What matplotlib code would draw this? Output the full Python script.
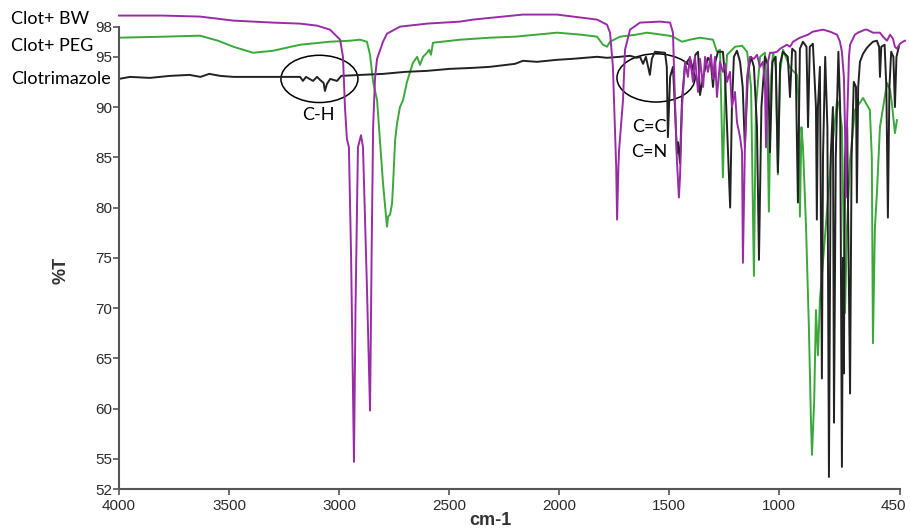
import matplotlib
matplotlib.use('Agg')
import matplotlib.pyplot as plt
from matplotlib.patches import Ellipse
from matplotlib.transforms import ScaledTranslation

plt.rcParams['font.family'] = ['Liberation Sans', 'DejaVu Sans']

# FTIR spectra, wavenumber (cm-1) vs transmittance (%T)
bw_wn = [4000, 3800, 3632, 3480, 3300, 3177, 3100, 3041, 2995, 2982, 2973, 2964, 2955, 2945,
         2932, 2925, 2914, 2900, 2891, 2873, 2859, 2852, 2845, 2836, 2827, 2800, 2782, 2723,
         2600, 2450, 2391, 2164, 2009, 1937, 1827, 1782, 1768, 1755, 1740, 1736, 1730, 1727,
         1709, 1700, 1677, 1632, 1541, 1495, 1482, 1473, 1464, 1455, 1450, 1441, 1427, 1414,
         1405, 1391, 1382, 1368, 1359, 1345, 1336, 1323, 1309, 1300, 1291, 1282, 1268, 1255,
         1245, 1236, 1223, 1214, 1200, 1191, 1177, 1168, 1164, 1155, 1145, 1132, 1114, 1100,
         1086, 1073, 1064, 1059, 1050, 1041, 1027, 1009, 995, 964, 950, 936, 905, 868, 846,
         800, 768, 736, 723, 714, 705, 700, 696, 691, 682, 677, 655, 641, 609, 600, 573, 541,
         527, 509, 495, 482, 473, 464, 450, 437, 427]
bw_t = [99.1, 99.1, 99.0, 98.6, 98.4, 98.3, 98.1, 97.7, 96.7, 95.0, 90.0, 86.8, 86.0, 75.0,
        54.7, 70.0, 86.0, 87.2, 86.0, 72.0, 59.8, 75.0, 88.0, 93.0, 94.8, 96.5, 97.3, 98.0,
        98.3, 98.5, 98.7, 99.2, 99.2, 99.0, 98.7, 98.2, 97.4, 94.0, 84.0, 78.8, 84.0, 85.7,
        90.7, 95.7, 97.7, 98.4, 98.5, 98.4, 97.4, 90.7, 84.7, 81.0, 83.0, 90.0, 94.5, 93.0,
        95.0, 92.5, 95.0, 91.5, 94.8, 92.0, 95.0, 93.5, 95.2, 92.8, 95.0, 91.0, 94.5, 93.5,
        94.3, 92.5, 93.5, 90.0, 91.5, 88.5, 87.0, 85.5, 74.5, 86.0, 93.0, 95.0, 94.8, 95.2,
        94.0, 94.5, 92.5, 86.0, 94.5, 95.4, 95.4, 95.5, 95.8, 96.2, 96.0, 96.5, 96.9, 97.2, 97.5,
        97.7, 97.5, 97.2, 96.5, 95.5, 93.0, 88.0, 81.0, 88.0, 95.0, 96.2, 97.2, 97.4, 97.7, 97.7, 97.4, 97.4,
        97.0, 96.6, 97.2, 96.8, 96.0, 95.8, 96.3, 96.5, 96.6]

peg_wn = [4000, 3800, 3632, 3550, 3480, 3391, 3300, 3177, 3041, 2950, 2905, 2873, 2859, 2845,
          2827, 2814, 2800, 2782, 2777, 2768, 2759, 2755, 2745, 2736, 2723, 2709, 2691, 2664,
          2645, 2632, 2618, 2600, 2590, 2582, 2573, 2450, 2314, 2200, 2009, 1900, 1827, 1800,
          1782, 1768, 1723, 1650, 1600, 1500, 1482, 1441, 1405, 1359, 1300, 1282, 1268, 1255,
          1245, 1236, 1200, 1168, 1145, 1127, 1114, 1105, 1086, 1064, 1055, 1046, 1036, 1027,
          1015, 1005, 995, 982, 950, 918, 910, 905, 898, 891, 877, 864, 855, 850, 840, 832,
          823, 814, 791, 764, 736, 727, 714, 700, 691, 677, 655, 618, 587, 578, 573, 564, 555,
          541, 509, 495, 487, 473, 464]
peg_t = [96.9, 97.0, 97.1, 96.6, 96.0, 95.4, 95.6, 96.2, 96.5, 96.6, 96.7, 96.5, 95.2, 92.5,
         90.7, 86.7, 82.4, 78.1, 79.1, 79.3, 80.4, 82.0, 86.7, 88.4, 90.0, 90.7, 92.5, 94.4,
         95.0, 94.2, 95.0, 95.4, 95.7, 95.2, 96.4, 96.7, 96.9, 97.0, 97.4, 97.2, 97.0, 96.2,
         96.0, 96.5, 97.0, 97.2, 97.4, 97.1, 97.0, 96.5, 96.7, 96.9, 96.7, 95.5, 95.7, 83.0,
         92.0, 95.2, 96.0, 96.1, 95.5, 92.0, 73.2, 90.0, 95.0, 95.4, 92.0, 79.6, 93.0, 95.4,
         94.0, 83.3, 93.5, 95.7, 93.9, 93.2, 90.0, 79.1, 88.0, 86.0, 78.0, 68.0, 59.0, 55.4, 60.8, 69.8,
         65.3, 70.8, 77.1, 84.7, 90.7, 90.2, 88.0, 69.5, 78.0, 84.7, 89.7, 90.9, 89.7, 85.0, 66.5, 78.0, 81.4,
         88.0, 92.4, 91.7, 90.4, 87.4, 88.7]

clot_wn = [4000, 3950, 3860, 3770, 3680, 3630, 3590, 3540, 3480, 3300, 3177, 3164, 3150, 3118,
           3100, 3086, 3070, 3064, 3055, 3040, 3009, 2990, 2900, 2800, 2700, 2600, 2496, 2390,
           2314, 2200, 2164, 2100, 2009, 1937, 1827, 1782, 1723, 1677, 1646, 1632, 1618, 1605,
           1587, 1578, 1564, 1518, 1510, 1505, 1495, 1482, 1473, 1464, 1459, 1450, 1441, 1427,
           1405, 1391, 1380, 1368, 1359, 1345, 1323, 1310, 1300, 1291, 1277, 1255, 1245, 1236,
           1222, 1214, 1205, 1191, 1177, 1165, 1155, 1141, 1127, 1114, 1100, 1091, 1080, 1064,
           1050, 1041, 1030, 1015, 1005, 995, 982, 960, 950, 940, 925, 914, 905, 891, 875, 868,
           860, 846, 832, 828, 823, 814, 805, 800, 790, 780, 773, 765, 755, 750, 742, 730, 722,
           714, 709, 705, 700, 690, 677, 670, 660, 650, 646, 640, 632, 618, 600, 587, 573, 555,
           545, 541, 535, 520, 512, 505, 498, 490, 480, 473, 466, 455, 450]
clot_t = [92.8, 93.0, 92.9, 93.1, 93.2, 93.0, 93.3, 93.1, 93.0, 93.0, 93.0, 92.6, 93.0, 92.6,
          93.0, 92.7, 92.4, 91.6, 92.3, 92.8, 92.6, 93.1, 93.2, 93.3, 93.5, 93.6, 93.8, 93.9,
          94.0, 94.3, 94.6, 94.5, 94.7, 94.8, 95.0, 94.9, 95.0, 95.1, 94.9, 95.0, 94.3, 95.0,
          93.2, 94.8, 95.5, 95.4, 94.0, 87.0, 93.0, 94.0, 90.0, 85.4, 86.5, 84.4, 90.7, 94.2,
          94.9, 93.7, 95.2, 95.5, 91.2, 93.0, 94.9, 94.5, 92.0, 94.4, 95.5, 95.5, 93.0, 88.0,
          80.0, 90.0, 95.0, 95.6, 94.5, 92.0, 86.0, 93.5, 95.0, 94.0, 88.0, 74.8, 90.0, 95.0,
          94.2, 85.5, 94.5, 95.0, 83.5, 94.3, 95.5, 95.0, 91.0, 95.8, 95.5, 80.5, 95.8, 96.5, 96.0, 88.0,
          96.0, 96.3, 90.0, 78.8, 90.0, 94.0, 63.0, 85.0, 95.0, 88.0, 53.2, 85.0, 90.0, 58.6, 85.0, 95.5, 90.0,
          54.2, 75.0, 63.5, 85.0, 88.0, 61.5, 85.0, 92.5, 92.0, 80.5, 92.0, 94.5, 95.3, 95.9, 96.2, 96.5, 96.6,
          96.0, 93.0, 96.0, 96.2, 92.0, 79.0, 92.0, 95.5, 95.0, 90.0, 95.0, 96.0, 96.2]

names = ['Clot+ BW', 'Clot+ PEG', 'Clotrimazole']
x_ticks = [4000, 3500, 3000, 2500, 2000, 1500, 1000, 450]
y_ticks = [52, 55, 60, 65, 70, 75, 80, 85, 90, 95, 98]

fig = plt.figure(figsize=(9.1, 5.32), dpi=100)
ax = fig.add_axes([0.1308, 0.0808, 0.8582, 0.9192])

ax.plot(peg_wn, peg_t, color='#3aa83a', lw=1.4)
ax.plot(clot_wn, clot_t, color='#222222', lw=1.4)
ax.plot(bw_wn, bw_t, color='#9a2ba6', lw=1.4, clip_on=False)

ax.set_xlim(4000, 450)
ax.set_ylim(52, 100.65)
ax.set_xticks(x_ticks)
ax.set_yticks(y_ticks)

for s in ['top', 'right']:
    ax.spines[s].set_visible(False)
for s in ['left', 'bottom']:
    ax.spines[s].set_color('#555555')
    ax.spines[s].set_linewidth(1.5)
ax.spines['left'].set_bounds(52, 98)

ax.tick_params(axis='both', length=4, width=1.2, color='#555555', labelsize=11, labelcolor='#2a2a2a')
ax.tick_params(axis='y', pad=1)
ax.tick_params(axis='x', pad=3)

# last x label sits right at the figure edge, nudge it in a bit
last = ax.get_xticklabels()[-1]
last.set_transform(last.get_transform() + ScaledTranslation(-5 / 72, 0, fig.dpi_scale_trans))

ax.set_ylabel('%T', fontsize=13, fontweight='bold', color='#333333')
ax.yaxis.set_label_coords(-0.063, 0.448)
ax.set_xlabel('cm-1', fontsize=13, fontweight='bold', color='#333333')
ax.xaxis.set_label_coords(0.475, -0.047)

# circled bands
ax.add_patch(Ellipse((3089, 92.8), width=350, height=4.7, fill=False, ec='black', lw=1.1))
ax.add_patch(Ellipse((1559, 92.9), width=355, height=4.8, fill=False, ec='black', lw=1.1))
ax.text(3096, 89.2, 'C-H', ha='center', va='center', fontsize=13, family='Lato')
ax.text(1591, 88.0, 'C=C', ha='center', va='center', fontsize=13, family='Lato')
ax.text(1591, 85.5, 'C=N', ha='center', va='center', fontsize=13, family='Lato')

# series names on the left, next to their traces
for name, ypos in zip(names, [0.965, 0.9135, 0.8515]):
    fig.text(0.012, ypos, name, ha='left', va='center', fontsize=13, family='Lato')

fig.savefig('out.png', dpi=100)
